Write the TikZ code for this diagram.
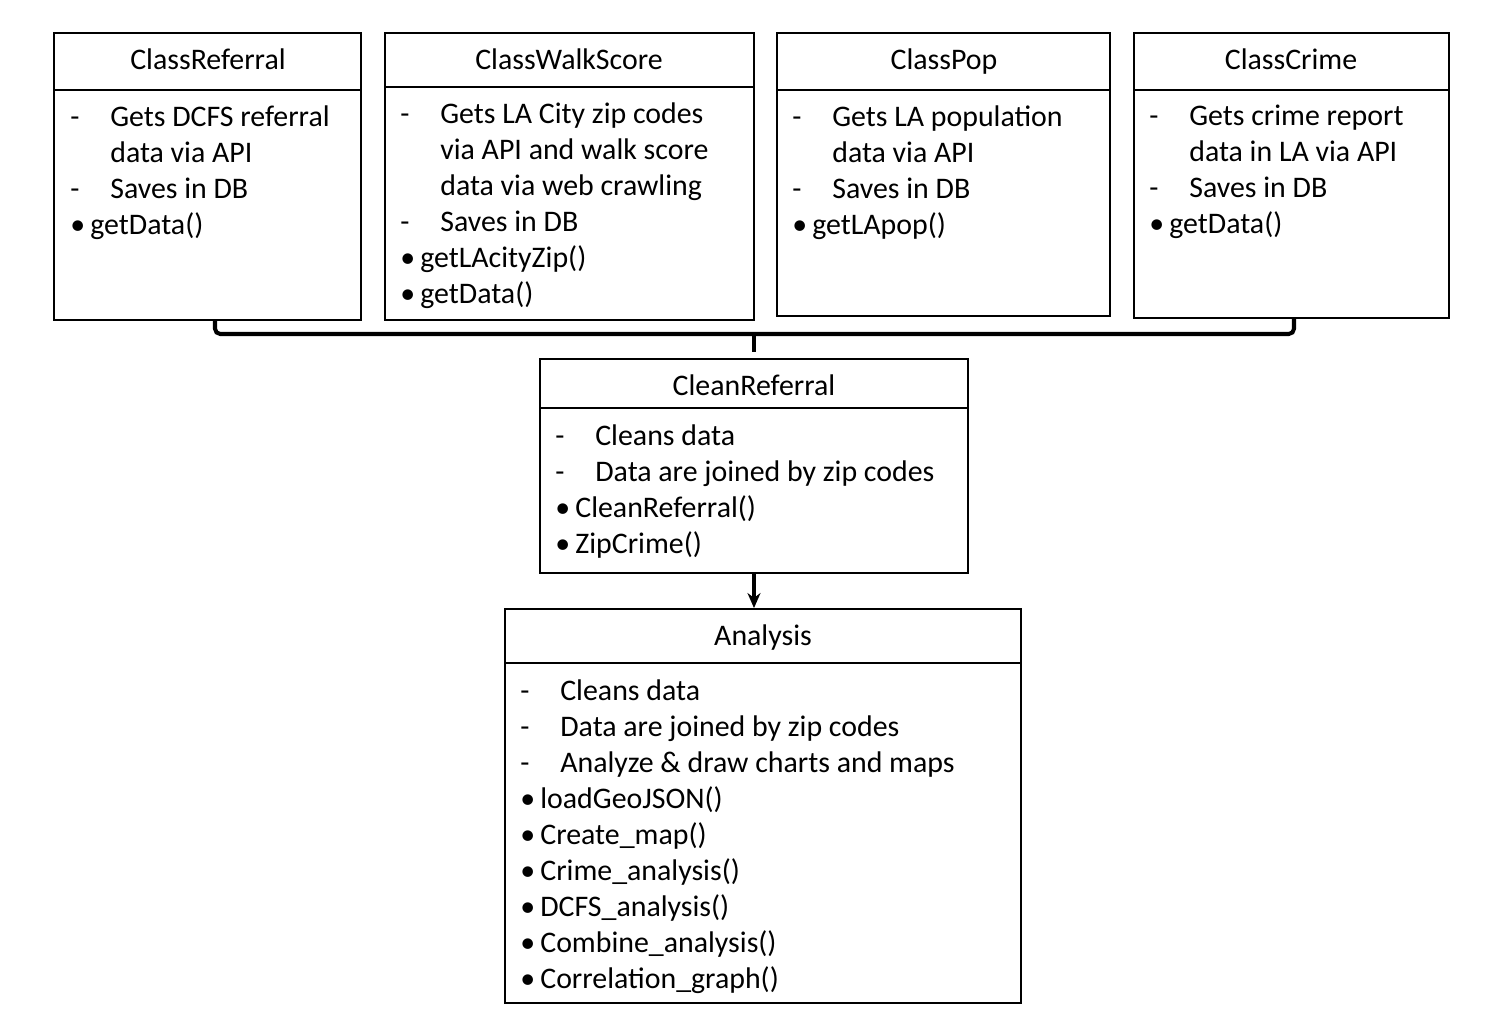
\documentclass[tikz,border=0pt]{standalone}
\usepackage{fontspec}
\setmainfont{Carlito}
\usetikzlibrary{arrows.meta,positioning,fit,calc}
\newcommand{\dashln}[1]{\makebox[0.8cm][l]{-}#1}
\newcommand{\contln}[1]{\hspace*{0.8cm}#1}
\newcommand{\bulln}[1]{\makebox[0.4cm][l]{\textbullet}#1}

\begin{document}
\begin{tikzpicture}[
    x=0.02cm, y=-0.02cm,
    classbox/.style={draw, line width=1.1pt, inner sep=0pt},
    title/.style={font=\fontsize{17}{20.5}\selectfont, inner sep=0pt, anchor=base},
    body/.style={font=\fontsize{17}{20.5}\selectfont, align=left, anchor=north west, inner sep=0pt},
    divider/.style={line width=1.1pt},
    bracepath/.style={line width=2.3pt, rounded corners=3pt},
    >={Stealth[length=0.3cm,width=0.26cm]}
]
\useasboundingbox (0,0) rectangle (1498,1008);

% the four data classes
\node[classbox, fit={(54,33) (361,320)}] (referral) {};
\node[classbox, fit={(385,33) (754,320)}] (walkscore) {};
\node[classbox, fit={(777,33) (1110,316)}] (pop) {};
\node[classbox, fit={(1134,33) (1449,318)}] (crime) {};
\draw[divider] (54,90) -- (361,90);
\draw[divider] (385,87) -- (754,87);
\draw[divider] (777,90) -- (1110,90);
\draw[divider] (1134,90) -- (1449,90);

\node[title] (referralT) at (208,69) {ClassReferral};
\node[title] (walkscoreT) at (569,69) {ClassWalkScore};
\node[title] (popT) at (944,69) {ClassPop};
\node[title] (crimeT) at (1291,69) {ClassCrime};

\node[body] (referralB) at (70,105) {\dashln{Gets DCFS referral}\\ \contln{data via API}\\ \dashln{Saves in DB}\\ \bulln{getData()}};
\node[body] (walkscoreB) at (400,102) {\dashln{Gets LA City zip codes}\\ \contln{via API and walk score}\\ \contln{data via web crawling}\\ \dashln{Saves in DB}\\ \bulln{getLAcityZip()}\\ \bulln{getData()}};
\node[body] (popB) at (792,105) {\dashln{Gets LA population}\\ \contln{data via API}\\ \dashln{Saves in DB}\\ \bulln{getLApop()}};
\node[body] (crimeB) at (1149,105) {\dashln{Gets crime report}\\ \contln{data in LA via API}\\ \dashln{Saves in DB}\\ \bulln{getData()}};

% cleaning step
\node[classbox, fit={(540,359) (968,573)}] (cleanref) {};
\draw[divider] (540,408) -- (968,408);
\node[title] (cleanrefT) at (754,395) {CleanReferral};
\node[body] (cleanrefB) at (555,424) {\dashln{Cleans data}\\ \dashln{Data are joined by zip codes}\\ \bulln{CleanReferral()}\\ \bulln{ZipCrime()}};

% analysis step
\node[classbox, fit={(505,609) (1021,1003)}] (analysis) {};
\draw[divider] (505,663) -- (1021,663);
\node[title] (analysisT) at (763,645) {Analysis};
\node[body] (analysisB) at (520,679) {\dashln{Cleans data}\\ \dashln{Data are joined by zip codes}\\ \dashln{Analyze \& draw charts and maps}\\ \bulln{loadGeoJSON()}\\ \bulln{Create\_map()}\\ \bulln{Crime\_analysis()}\\ \bulln{DCFS\_analysis()}\\ \bulln{Combine\_analysis()}\\ \bulln{Correlation\_graph()}};

% brace joining the classes
\coordinate (braceL) at (referral.south -| 215,0);
\coordinate (braceR) at (crime.south -| 1294,0);
\coordinate (braceM) at (754,334);
\coordinate (braceTip) at (754,352);
\draw[bracepath] (braceL) |- (braceM) -| (braceR);
\draw[bracepath] (braceM) -- (braceTip);

\draw[->, line width=2pt] (cleanref.south) -- (cleanref.south |- analysis.north);
\end{tikzpicture}
\end{document}
